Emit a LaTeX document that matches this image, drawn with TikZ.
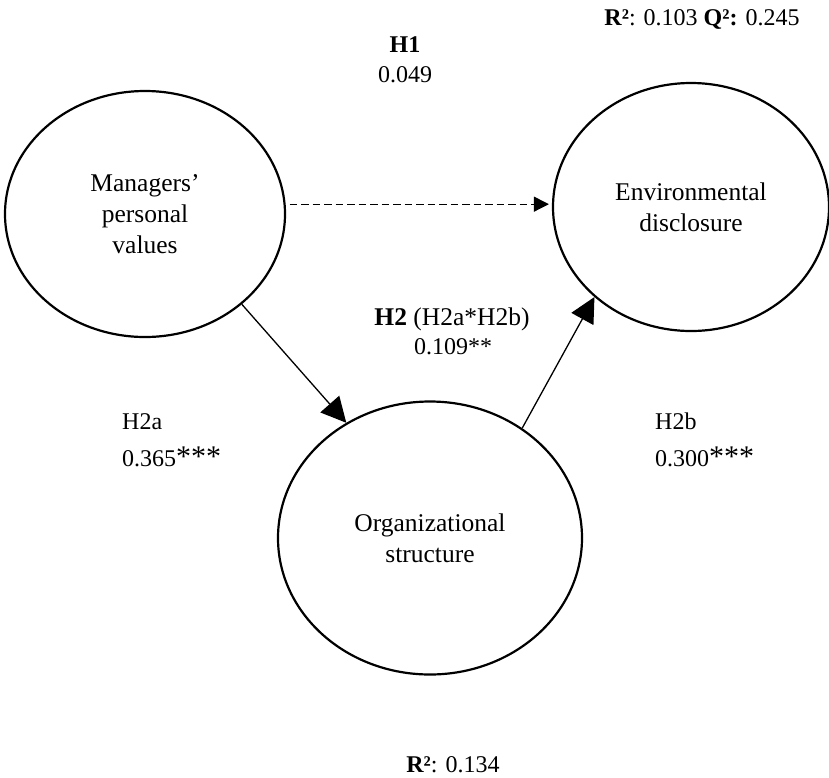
\documentclass[tikz,border=0pt]{standalone}
\usepackage{fontspec}
\setmainfont{Liberation Serif}
\usetikzlibrary{arrows.meta,shapes.geometric}
\begin{document}
\begin{tikzpicture}[x=1pt,y=-1pt,
  every node/.style={font=\fontsize{24}{30.5}\selectfont, inner sep=0pt},
  latent/.style={ellipse, draw, line width=2.2pt, align=center, font=\fontsize{25.5}{31}\selectfont},
  lbl/.style={anchor=base},
  lblw/.style={anchor=base west},
  solidarrow/.style={line width=1.3pt, -{Triangle[length=25pt,width=25pt]}},
  dasharrow/.style={line width=1.2pt, dash pattern=on 7.5pt off 4pt, -{Triangle[length=15pt,width=15pt]}}]
\useasboundingbox (0,0) rectangle (829,777);
\node[latent, minimum width=280pt, minimum height=246pt] (L) at (145,214) {Managers’\\personal\\values};
\node[latent, minimum width=276pt, minimum height=248pt] (R) at (691,207) {Environmental\\disclosure};
\node[latent, minimum width=304pt, minimum height=273pt] (O) at (430,538) {Organizational\\structure};
\coordinate (ds) at ([xshift=4pt]L.4);
\draw[dasharrow, shorten >=3pt] (ds) -- (R.west |- ds);
\draw[solidarrow] (L.-43) -- (O.126);
\draw[solidarrow] (O.50) -- (R.223);
\node[lbl] (h1) at (405,52) {\textbf{H1}};
\node[lbl] (h1v) at (405,82) {0.049};
\node[lbl] (rq) at (702,25) {\textbf{R²}: 0.103 \textbf{Q²:} 0.245};
\node[lbl, font=\fontsize{25.5}{31}\selectfont] (h2) at (452,325) {\textbf{H2} (H2a*H2b)};
\node[lbl] (h2v) at (453,354) {0.109**};
\node[lblw] (h2a) at (122,429) {H2a};
\node[lblw] (h2av) at (122,466) {0.365{\fontsize{30}{30}\selectfont ***}};
\node[lblw] (h2b) at (655,429) {H2b};
\node[lblw] (h2bv) at (655,466) {0.300{\fontsize{30}{30}\selectfont ***}};
\node[lbl] (r2) at (453,772) {\textbf{R²}: 0.134};
\end{tikzpicture}
\end{document}
